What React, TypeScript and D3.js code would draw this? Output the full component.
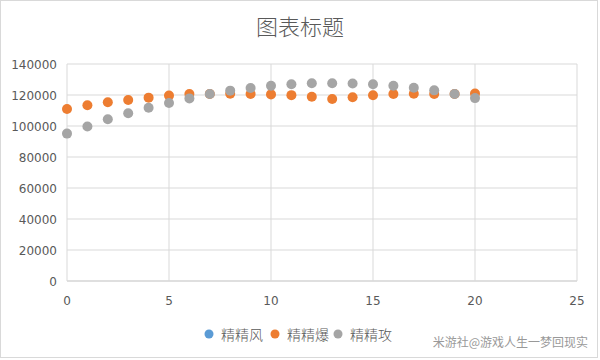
import React from "react";
import * as d3 from "d3";

const xs = d3.range(0, 21);
const seriesNames = ["精精风", "精精爆", "精精攻"];
const seriesColors = ["#5B9BD5", "#ED7D31", "#A5A5A5"];
const fengValues: number[] = [];
const baoValues = [111000, 113400, 115300, 116800, 118300, 119600, 120600, 120600, 120800, 120600, 120400, 119900, 118900, 117400, 118500, 119800, 120600, 120800, 120600, 120600, 121000];
const gongValues = [95100, 99700, 104300, 108200, 111800, 114800, 117800, 120600, 122800, 124500, 126000, 126900, 127600, 127600, 127400, 126900, 126000, 124700, 123000, 120600, 118000];
const xTicks = [0, 5, 10, 15, 20, 25];
const yTicks = [0, 20000, 40000, 60000, 80000, 100000, 120000, 140000];
const title = "图表标题";
const watermark = "米游社@游戏人生一梦回现实";

export default function App() {
  const W = 600, H = 360;
  const x = d3.scaleLinear().domain([0, 25]).range([67, 577]);
  const y = d3.scaleLinear().domain([0, 140000]).range([281, 64]);
  const series = [fengValues, baoValues, gongValues];
  const font = "'Noto Sans CJK SC', sans-serif";
  const numFont = "'DejaVu Sans', sans-serif";
  const legendX = [209, 275, 338];
  return (
    <svg width={W} height={H} style={{ position: "absolute", left: 0, top: 0, fontFamily: font }}>
      <rect x={0.5} y={0.5} width={597} height={357} fill="#fff" stroke="#d9d9d9" />
      <text x={300} y={35} textAnchor="middle" fontSize={22} fontWeight={300} fill="#595959">{title}</text>
      {yTicks.map((t) => (
        <g key={"y" + t}>
          <line x1={x(0)} x2={x(25)} y1={y(t)} y2={y(t)} stroke={t === 0 ? "#bfbfbf" : "#d9d9d9"} />
          <text x={57} y={y(t) + 4.5} textAnchor="end" fontSize={12} fill="#595959" fontFamily={numFont}>{t}</text>
        </g>
      ))}
      {xTicks.map((t) => (
        <g key={"x" + t}>
          <line x1={x(t)} x2={x(t)} y1={y(140000)} y2={y(0)} stroke="#d9d9d9" />
          <text x={x(t)} y={305} textAnchor="middle" fontSize={12} fill="#595959" fontFamily={numFont}>{t}</text>
        </g>
      ))}
      {series.map((vals, si) => (
        <g key={"s" + si}>
          {vals.map((v, i) => (
            <circle key={i} cx={x(xs[i])} cy={y(v)} r={5} fill={seriesColors[si]} />
          ))}
        </g>
      ))}
      {seriesNames.map((n, i) => (
        <g key={"l" + i}>
          <circle cx={legendX[i]} cy={334} r={4.5} fill={seriesColors[i]} />
          <text x={legendX[i] + 12} y={339.5} fontSize={14} fontWeight={300} fill="#595959">{n}</text>
        </g>
      ))}
      <text x={588} y={347} textAnchor="end" fontSize={12} fill="#999">{watermark}</text>
    </svg>
  );
}
